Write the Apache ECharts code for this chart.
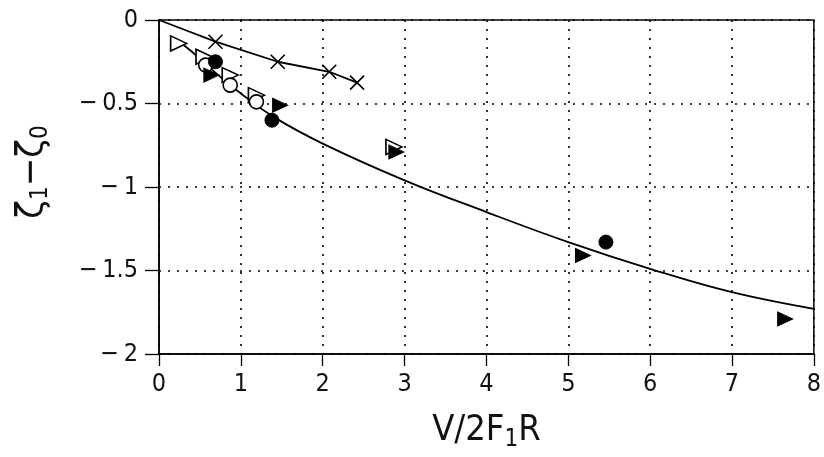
<!DOCTYPE html>
<html>
<head>
<meta charset="utf-8">
<script src="https://cdn.jsdelivr.net/npm/echarts@6/dist/echarts.min.js"></script>
<style>html,body{margin:0;padding:0;background:#fff}#c{width:824px;height:457px}</style>
</head>
<body>
<div id="c"></div>
<script>
// ---- data ----
var xTicks = [0, 1, 2, 3, 4, 5, 6, 7, 8];
var yTicks = [0, -0.5, -1, -1.5, -2];
var crossLine = [[0, 0], [0.69, -0.13], [1.45, -0.25], [2.08, -0.31], [2.42, -0.375]];
var crosses = [[0.69, -0.13], [1.45, -0.25], [2.08, -0.31], [2.42, -0.375]];
var lowerCurve = [[0.3, -0.15], [0.45, -0.21], [0.7, -0.32], [1.0, -0.44], [1.4, -0.58], [2, -0.74], [3, -0.96], [4, -1.15], [5, -1.33], [6, -1.49], [7, -1.63], [8, -1.73]];
var openTriangles = [[0.24, -0.14], [0.55, -0.22], [0.87, -0.33], [1.19, -0.45], [2.87, -0.76]];
var openCircles = [[0.57, -0.27], [0.87, -0.39], [1.19, -0.49]];
var filledCircles = [[0.69, -0.25], [1.38, -0.60], [5.46, -1.33]];
var filledTriangles = [[0.64, -0.33], [1.48, -0.51], [2.9, -0.79], [5.18, -1.41], [7.65, -1.79]];

var FONT = '"DejaVu Sans Condensed", "Liberation Sans Narrow", "Liberation Sans", sans-serif';
var triPath = 'path://M0,0L10,5L0,10Z';
var crossPath = 'path://M0,0L10,10M10,0L0,10';
function fmt(v) { return v < 0 ? '\u2212\u2009' + String(-v) : String(v); }

var chart = echarts.init(document.getElementById('c'), null, {renderer: 'canvas'});
chart.setOption({
  animation: false,
  backgroundColor: '#fff',
  grid: {left: 159, right: 5, top: 20, bottom: 101, show: true, borderColor: '#000', borderWidth: 1.5, backgroundColor: 'transparent'},
  xAxis: {
    type: 'value', min: 0, max: 8, interval: 1,
    axisLine: {show: true, onZero: false, lineStyle: {color: '#000', width: 1.5}},
    axisTick: {show: true, inside: false, length: 12, lineStyle: {color: '#000', width: 1.3}},
    axisLabel: {color: '#111', fontFamily: FONT, fontSize: 25, margin: 18, formatter: fmt},
    splitLine: {show: true, lineStyle: {color: '#000', type: [2, 7], width: 1.6}},
    name: '{a|V/2F}{s|1}{a|R}', nameLocation: 'middle', nameGap: 56,
    nameTextStyle: {rich: {a: {fontFamily: FONT, fontSize: 36, color: '#111'}, s: {fontFamily: FONT, fontSize: 24, color: '#111', padding: [18, 0, 0, 0]}}}
  },
  yAxis: {
    type: 'value', min: -2, max: 0, interval: 0.5,
    axisLine: {show: true, onZero: false, lineStyle: {color: '#000', width: 1.5}},
    axisTick: {show: true, inside: false, length: 14, lineStyle: {color: '#000', width: 1.3}},
    axisLabel: {color: '#111', fontFamily: FONT, fontSize: 25, margin: 21, formatter: fmt},
    splitLine: {show: true, lineStyle: {color: '#000', type: [2, 7], width: 1.6}},
    name: '{a|\u03b6}{s|1}{a|\u2212\u03b6}{s|0}', nameLocation: 'middle', nameGap: 106, nameRotate: 90,
    nameTextStyle: {padding: [0, 0, 0, 30], rich: {a: {fontFamily: FONT, fontSize: 38, color: '#111'}, s: {fontFamily: FONT, fontSize: 24, color: '#111', padding: [18, 0, 0, 0]}}}
  },
  series: [
    {type: 'line', data: crossLine, showSymbol: false, lineStyle: {color: '#000', width: 1.8}, z: 2},
    {type: 'line', data: lowerCurve, smooth: 0.4, showSymbol: false, lineStyle: {color: '#000', width: 1.8}, z: 2},
    {type: 'scatter', data: crosses, symbol: crossPath, symbolSize: 14, itemStyle: {opacity: 1, color: 'transparent', borderColor: '#000', borderWidth: 1.6}, z: 3},
    {type: 'scatter', data: openTriangles, symbol: triPath, symbolSize: [16, 15], itemStyle: {opacity: 1, color: '#fff', borderColor: '#000', borderWidth: 1.6}, z: 3},
    {type: 'scatter', data: openCircles, symbol: 'circle', symbolSize: 14, itemStyle: {opacity: 1, color: '#fff', borderColor: '#000', borderWidth: 1.6}, z: 4},
    {type: 'scatter', data: filledCircles, symbol: 'circle', symbolSize: 14, itemStyle: {opacity: 1, color: '#000', borderColor: '#000', borderWidth: 1}, z: 5},
    {type: 'scatter', data: filledTriangles, symbol: triPath, symbolSize: [15, 14], itemStyle: {opacity: 1, color: '#000', borderColor: '#000', borderWidth: 1}, z: 5}
  ]
});
</script>
</body>
</html>
